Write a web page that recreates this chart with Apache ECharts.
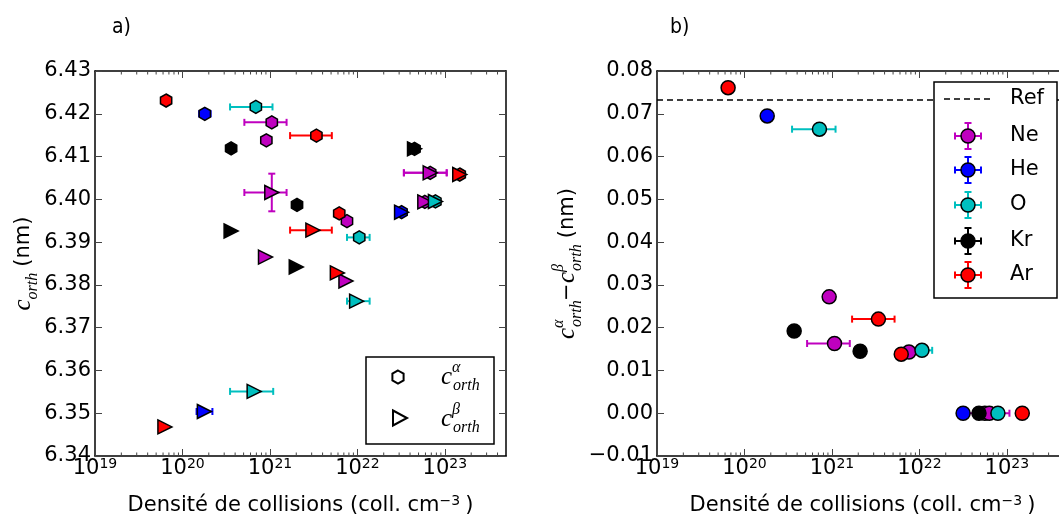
<!DOCTYPE html>
<html>
<head>
<meta charset="utf-8">
<script src="https://cdn.jsdelivr.net/npm/echarts@6/dist/echarts.min.js"></script>
<style>
html, body { margin: 0; background: #fff; }
#main { width: 1059px; height: 516px; }
</style>
</head>
<body>
<div id="main"></div>
<script>
// gaz, dans l'ordre de la légende
var gasNames = ['Ne', 'He', 'O', 'Kr', 'Ar'];
var gasColors = ['#bf00bf', '#0000ff', '#00bfbf', '#000000', '#ff0000'];

// a) c_orth alpha (hexagones) : [densité, c, xmin, xmax, yerr]
var neAlpha = [[1.05e21, 6.4180, 5.1e20, 1.55e21], [9.1e20, 6.4138], [7.6e21, 6.3949], [6.8e22, 6.4062, 3.4e22, 1.05e23], [5.9e22, 6.3994]];
var heAlpha = [[1.8e20, 6.4200, 1.55e20, 2.1e20], [3.2e22, 6.3970]];
var oAlpha = [[6.9e20, 6.4216, 3.5e20, 1.07e21], [1.05e22, 6.3911, 7.6e21, 1.38e22], [7.8e22, 6.3995]];
var krAlpha = [[3.6e20, 6.4119], [2.04e21, 6.3987], [4.5e22, 6.4118]];
var arAlpha = [[6.5e19, 6.4231], [3.4e21, 6.4149, 1.7e21, 5.1e21], [6.2e21, 6.3967], [1.48e23, 6.4058]];

// a) c_orth beta (triangles)
var neBeta = [[1.05e21, 6.4016, 5.1e20, 1.55e21, 0.0044], [8.9e20, 6.3865], [7.4e21, 6.3809], [6.8e22, 6.4062, 3.4e22, 1.05e23], [5.9e22, 6.3994]];
var heBeta = [[1.78e20, 6.3504, 1.45e20, 2.2e20], [3.2e22, 6.3970]];
var oBeta = [[6.6e20, 6.3551, 3.5e20, 1.09e21], [9.8e21, 6.3762, 7.6e21, 1.38e22], [7.8e22, 6.3995]];
var krBeta = [[3.6e20, 6.3926], [2.0e21, 6.3842], [4.5e22, 6.4118]];
var arBeta = [[6.3e19, 6.3468], [3.1e21, 6.3928, 1.7e21, 5.1e21], [5.9e21, 6.3828], [1.48e23, 6.4058]];

// b) c_orth alpha - c_orth beta
var neDiff = [[9.3e20, 0.0272], [1.07e21, 0.0163, 5.2e20, 1.6e21], [7.6e21, 0.0143], [5.6e22, 0], [6.3e22, 0, 3.4e22, 1.07e23]];
var heDiff = [[1.82e20, 0.0695], [3.16e22, 0]];
var oDiff = [[7.2e20, 0.0664, 3.5e20, 1.1e21], [1.07e22, 0.0147, 7.9e21, 1.4e22], [7.9e22, 0]];
var krDiff = [[3.7e20, 0.0192], [2.1e21, 0.0145], [4.8e22, 0]];
var arDiff = [[6.5e19, 0.0761], [3.4e21, 0.0220, 1.7e21, 5.2e21], [6.2e21, 0.0138], [1.5e23, 0]];
var refLevel = 0.0733;

var alphaData = [neAlpha, heAlpha, oAlpha, krAlpha, arAlpha];
var betaData = [neBeta, heBeta, oBeta, krBeta, arBeta];
var diffData = [neDiff, heDiff, oDiff, krDiff, arDiff];

var xMin = 1e19, xMax = 5e23;
var yTicksA = [6.34, 6.43, 0.01];
var yTicksB = [-0.01, 0.08, 0.01];

var FONT = 'DejaVu Sans';
var MATH = 'Liberation Serif';
var hexPath = 'path://M0,-1L0.866,-0.5L0.866,0.5L0,1L-0.866,0.5L-0.866,-0.5Z';
var triPath = 'path://M-1,-1L1,0L-1,1Z';

var minorTicks = [];
for (var e = 19; e <= 23; e++) {
    for (var k = 2; k <= 9; k++) {
        var v = k * Math.pow(10, e);
        if (v < xMax) minorTicks.push(v);
    }
}

function pad(rows) {
    return rows.map(function (r) {
        return [r[0], r[1], r[2] || 0, r[3] || 0, r[4] || 0];
    });
}

function errRender(params, api) {
    var x = api.value(0), y = api.value(1);
    var xlo = api.value(2), xhi = api.value(3), ye = api.value(4);
    var col = api.visual('color');
    var st = { stroke: col, lineWidth: 2 };
    var ch = [];
    var cap = 3.5;
    if (xlo > 0 && xhi > 0) {
        var a = api.coord([xlo, y]), b = api.coord([xhi, y]);
        ch.push({ type: 'line', shape: { x1: a[0], y1: a[1], x2: b[0], y2: b[1] }, style: st });
        ch.push({ type: 'line', shape: { x1: a[0], y1: a[1] - cap, x2: a[0], y2: a[1] + cap }, style: st });
        ch.push({ type: 'line', shape: { x1: b[0], y1: b[1] - cap, x2: b[0], y2: b[1] + cap }, style: st });
    }
    if (ye > 0) {
        var c = api.coord([x, y - ye]), d = api.coord([x, y + ye]);
        ch.push({ type: 'line', shape: { x1: c[0], y1: c[1], x2: d[0], y2: d[1] }, style: st });
        ch.push({ type: 'line', shape: { x1: c[0] - cap, y1: c[1], x2: c[0] + cap, y2: c[1] }, style: st });
        ch.push({ type: 'line', shape: { x1: d[0] - cap, y1: d[1], x2: d[0] + cap, y2: d[1] }, style: st });
    }
    return { type: 'group', children: ch };
}

function minorRender(params, api) {
    var cs = params.coordSys;
    var x = api.coord([api.value(0), api.value(1)])[0];
    var st = { stroke: '#444', lineWidth: 1 };
    return {
        type: 'group',
        children: [
            { type: 'line', shape: { x1: x, y1: cs.y + cs.height, x2: x, y2: cs.y + cs.height - 3.5 }, style: st },
            { type: 'line', shape: { x1: x, y1: cs.y, x2: x, y2: cs.y + 3.5 }, style: st }
        ]
    };
}

var tickRich = {
    b: { fontFamily: FONT, fontSize: 21, color: '#000', lineHeight: 22, padding: [5, 0, 0, 0], verticalAlign: 'bottom' },
    s: { fontFamily: FONT, fontSize: 14, color: '#000', lineHeight: 15, verticalAlign: 'top' }
};

// c avec exposant et indice empilés : l'exposant a une largeur de 1 px
var mathRich = {
    c: { fontFamily: MATH, fontStyle: 'italic', fontSize: 25, color: '#000', lineHeight: 34, width: 11, verticalAlign: 'middle', align: 'left' },
    sup: { fontFamily: MATH, fontStyle: 'italic', fontSize: 16, color: '#000', lineHeight: 16, width: 1, verticalAlign: 'top', align: 'left' },
    sub: { fontFamily: MATH, fontStyle: 'italic', fontSize: 16, color: '#000', lineHeight: 16, width: 26, verticalAlign: 'bottom', align: 'left' },
    m: { fontFamily: FONT, fontSize: 21, color: '#000', lineHeight: 34, width: 18, verticalAlign: 'middle', align: 'left' },
    t: { fontFamily: FONT, fontSize: 21, color: '#000', lineHeight: 34, verticalAlign: 'middle', align: 'left' }
};

var nameRich = {
    t: { fontFamily: FONT, fontSize: 21, color: '#000', lineHeight: 22, padding: [5, 0, 0, 0], verticalAlign: 'bottom' },
    s: { fontFamily: FONT, fontSize: 14, color: '#000', lineHeight: 15, padding: [0, 5, 0, 0], verticalAlign: 'top' }
};
var xName = '{t|Densité de collisions (coll. cm}{s|\u22123}{t|)}';

function makeX(gi, pos) {
    var bottom = pos === 'bottom';
    return {
        type: 'log', logBase: 10, gridIndex: gi, position: pos,
        min: xMin, max: xMax,
        axisLine: { show: true, onZero: false, lineStyle: { color: '#000', width: 1.5 } },
        axisTick: { show: true, inside: true, length: 7, lineStyle: { color: '#444', width: 1 } },
        splitLine: { show: false },
        axisLabel: {
            show: bottom, margin: 1, showMaxLabel: false,
            formatter: function (v) { return '{b|10}{s|' + Math.round(Math.log10(v)) + '}'; },
            rich: tickRich
        },
        name: bottom ? xName : '',
        nameLocation: 'middle', nameGap: 38,
        nameTextStyle: { rich: nameRich }
    };
}

function makeY(gi, pos, ticks, name, gap) {
    var left = pos === 'left';
    return {
        type: 'value', gridIndex: gi, position: pos,
        min: ticks[0], max: ticks[1], interval: ticks[2],
        axisLine: { show: true, onZero: false, lineStyle: { color: '#000', width: 1.5 } },
        axisTick: { show: true, inside: true, length: 7, lineStyle: { color: '#444', width: 1 } },
        splitLine: { show: false },
        axisLabel: {
            show: left, margin: 4, fontFamily: FONT, fontSize: 21, color: '#000',
            formatter: function (v) { return (v < 0 ? '\u2212' : '') + Math.abs(v).toFixed(2); }
        },
        name: left ? name : '',
        nameLocation: 'middle', nameGap: gap,
        nameTextStyle: { rich: mathRich }
    };
}

var series = [];
for (var g = 0; g < gasNames.length; g++) {
    var sets = [[alphaData[g], hexPath, 13], [betaData[g], triPath, 14]];
    for (var s = 0; s < sets.length; s++) {
        series.push({
            type: 'custom', name: gasNames[g] + ' err', xAxisIndex: 0, yAxisIndex: 0,
            data: pad(sets[s][0]), encode: { x: 0, y: 1 }, renderItem: errRender,
            itemStyle: { color: gasColors[g] }, silent: true
        });
        series.push({
            type: 'scatter', name: gasNames[g], xAxisIndex: 0, yAxisIndex: 0,
            data: sets[s][0].map(function (r) { return [r[0], r[1]]; }),
            symbol: sets[s][1], symbolSize: sets[s][2], symbolKeepAspect: true,
            itemStyle: { color: gasColors[g], borderColor: '#000', borderWidth: 1.5, opacity: 1 }
        });
    }
}
for (var g2 = 0; g2 < gasNames.length; g2++) {
    series.push({
        type: 'custom', name: gasNames[g2] + ' err b', xAxisIndex: 2, yAxisIndex: 2,
        data: pad(diffData[g2]), encode: { x: 0, y: 1 }, renderItem: errRender,
        itemStyle: { color: gasColors[g2] }, silent: true
    });
    var sc = {
        type: 'scatter', name: gasNames[g2] + ' b', xAxisIndex: 2, yAxisIndex: 2,
        data: diffData[g2].map(function (r) { return [r[0], r[1]]; }),
        symbol: 'circle', symbolSize: 14,
        itemStyle: { color: gasColors[g2], borderColor: '#000', borderWidth: 1.5, opacity: 1 }
    };
    if (g2 === 0) {
        sc.markLine = {
            silent: true, symbol: 'none', precision: 4, label: { show: false },
            lineStyle: { color: '#000', width: 1.5, type: [6, 4] },
            data: [{ yAxis: refLevel }]
        };
    }
    series.push(sc);
}
series.push({
    type: 'custom', xAxisIndex: 0, yAxisIndex: 0, silent: true, z: 1,
    data: minorTicks.map(function (v) { return [v, yTicksA[0]]; }), encode: { x: 0, y: 1 }, renderItem: minorRender
});
series.push({
    type: 'custom', xAxisIndex: 2, yAxisIndex: 2, silent: true, z: 1,
    data: minorTicks.map(function (v) { return [v, yTicksB[0]]; }), encode: { x: 0, y: 1 }, renderItem: minorRender
});

// légendes dessinées à la main
var graphic = [];
graphic.push({ type: 'text', left: 112, top: 17, z: 100, style: { text: 'a)', font: '21px "DejaVu Sans Condensed"', fill: '#000' } });
graphic.push({ type: 'text', left: 670, top: 17, z: 100, style: { text: 'b)', font: '21px "DejaVu Sans Condensed"', fill: '#000' } });

// a) légende
graphic.push({ type: 'rect', z: 100, shape: { x: 366, y: 357, width: 128, height: 87 }, style: { fill: '#fff', stroke: '#000', lineWidth: 1.5 } });
graphic.push({ type: 'polygon', z: 101, shape: { points: [[398, 370.5], [403.6, 373.7], [403.6, 380.3], [398, 383.5], [392.4, 380.3], [392.4, 373.7]] }, style: { fill: '#fff', stroke: '#000', lineWidth: 2 } });
graphic.push({ type: 'polygon', z: 101, shape: { points: [[393, 410.5], [407, 418], [393, 425.5]] }, style: { fill: '#fff', stroke: '#000', lineWidth: 2 } });
graphic.push({ type: 'text', z: 101, x: 441, y: 377, style: { text: '{c|c}{sup|\u03b1}{sub|orth}', rich: mathRich, verticalAlign: 'middle', align: 'left' } });
graphic.push({ type: 'text', z: 101, x: 441, y: 419, style: { text: '{c|c}{sup|\u03b2}{sub|orth}', rich: mathRich, verticalAlign: 'middle', align: 'left' } });

// b) légende
graphic.push({ type: 'rect', z: 100, shape: { x: 934, y: 82, width: 123, height: 216 }, style: { fill: '#fff', stroke: '#000', lineWidth: 1.5 } });
graphic.push({ type: 'line', z: 101, shape: { x1: 944, y1: 99, x2: 992, y2: 99 }, style: { stroke: '#000', lineWidth: 1.5, lineDash: [6, 4] } });
graphic.push({ type: 'text', z: 101, x: 1010, y: 99, style: { text: 'Ref', font: '21px "DejaVu Sans"', fill: '#000', verticalAlign: 'middle' } });
var legY = [136, 170, 205, 241, 275];
for (var i = 0; i < gasNames.length; i++) {
    var cx = 968, cy = legY[i], col = gasColors[i];
    var ls = { stroke: col, lineWidth: 2 };
    graphic.push({ type: 'line', z: 101, shape: { x1: cx - 13, y1: cy, x2: cx + 13, y2: cy }, style: ls });
    graphic.push({ type: 'line', z: 101, shape: { x1: cx, y1: cy - 13, x2: cx, y2: cy + 13 }, style: ls });
    graphic.push({ type: 'line', z: 101, shape: { x1: cx - 13, y1: cy - 3.5, x2: cx - 13, y2: cy + 3.5 }, style: ls });
    graphic.push({ type: 'line', z: 101, shape: { x1: cx + 13, y1: cy - 3.5, x2: cx + 13, y2: cy + 3.5 }, style: ls });
    graphic.push({ type: 'line', z: 101, shape: { x1: cx - 3.5, y1: cy - 13, x2: cx + 3.5, y2: cy - 13 }, style: ls });
    graphic.push({ type: 'line', z: 101, shape: { x1: cx - 3.5, y1: cy + 13, x2: cx + 3.5, y2: cy + 13 }, style: ls });
    graphic.push({ type: 'circle', z: 102, shape: { cx: cx, cy: cy, r: 7 }, style: { fill: col, stroke: '#000', lineWidth: 1.5 } });
    graphic.push({ type: 'text', z: 101, x: 1010, y: cy, style: { text: gasNames[i], font: '21px "DejaVu Sans"', fill: '#000', verticalAlign: 'middle' } });
}

var option = {
    animation: false,
    backgroundColor: '#fff',
    grid: [
        { left: 95, top: 71, width: 411, height: 385, outerBoundsMode: 'none' },
        { left: 657, top: 71, width: 411, height: 385, outerBoundsMode: 'none' }
    ],
    xAxis: [makeX(0, 'bottom'), makeX(0, 'top'), makeX(1, 'bottom'), makeX(1, 'top')],
    yAxis: [
        makeY(0, 'left', yTicksA, '{c|c}{sub|orth}{t| (nm)}', 52),
        makeY(0, 'right', yTicksA, '', 0),
        makeY(1, 'left', yTicksB, '{c|c}{sup|\u03b1}{sub|orth}{m|\u2212}{c|c}{sup|\u03b2}{sub|orth}{t| (nm)}', 72),
        makeY(1, 'right', yTicksB, '', 0)
    ],
    series: series,
    graphic: graphic
};

var myChart = echarts.init(document.getElementById('main'));
myChart.setOption(option);
</script>
</body>
</html>
